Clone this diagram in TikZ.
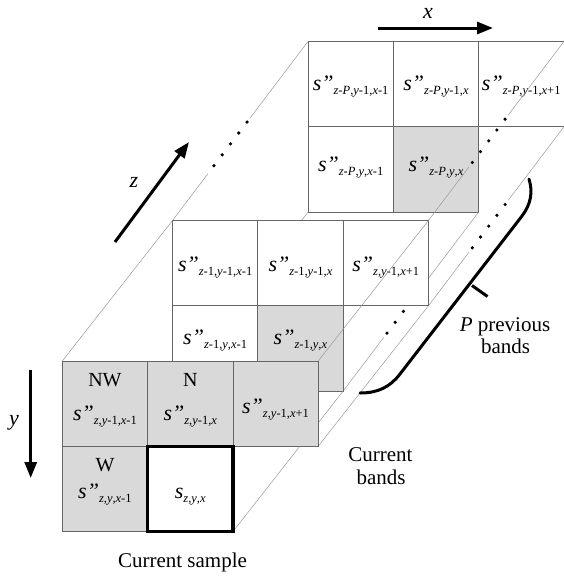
\documentclass[tikz,border=0pt]{standalone}
\usepackage{fontspec}
\setmainfont{Liberation Serif}
\usetikzlibrary{calc,arrows.meta}
\newcommand{\mi}[1]{\textit{#1}}
\newcommand{\spp}[1]{{\fontsize{22}{22}\selectfont\itshape s\char"22}\raisebox{-4pt}{\fontsize{12.5}{12}\selectfont #1}}
\newcommand{\scur}[1]{{\fontsize{22}{22}\selectfont\itshape s}\raisebox{-4pt}{\fontsize{12.5}{12}\selectfont #1}}
\begin{document}
\begin{tikzpicture}[x=1pt,y=-1pt,
  cellbox/.style={draw=black!60,line width=0.8pt,minimum size=85.3pt,inner sep=0pt,outer sep=0pt,fill=white},
  greycell/.style={cellbox,fill=black!15},
  zline/.style={draw=black!40,line width=0.5pt},
  celltext/.style={anchor=base,inner sep=0pt},
  dirlabel/.style={anchor=base,inner sep=0pt,font=\fontsize{22}{22}\selectfont\itshape},
  axisarrow/.style={line width=3pt,-{Triangle[length=16pt,width=12pt]}},
  lbl/.style={font=\fontsize{21}{23}\selectfont,inner sep=0pt,anchor=base},
  dirname/.style={font=\fontsize{20}{20}\selectfont,inner sep=0pt,anchor=base},
  brace/.style={line width=3pt,line cap=round}
]
\useasboundingbox (0,0) rectangle (563,576);

% corner coordinates of the three band planes
\coordinate (Btl) at (308,41.5);   \coordinate (Btr) at (563.9,41.5);
\coordinate (Brm) at (563.9,126.8); \coordinate (Bbr) at (478.6,212.1);
\coordinate (Bbl) at (308,212.1);
\coordinate (Mtl) at (172.5,220.5); \coordinate (Mtr) at (428.4,220.5);
\coordinate (Mrm) at (428.4,305.8); \coordinate (Mbr) at (343.1,391.1);
\coordinate (Mbl) at (172.5,391.1);
\coordinate (Ftl) at (62.3,361);    \coordinate (Ftr) at (318.2,361);
\coordinate (Frm) at (318.2,446.3); \coordinate (Fbr) at (232.9,531.6);
\coordinate (Fbl) at (62.3,531.6);

% ---------- back band (z-P) ----------
\node[cellbox]  (b00) at (350.65,84.15) {};
\node[cellbox]  (b10) at (435.95,84.15) {};
\node[cellbox]  (b20) at (521.25,84.15) {};
\node[cellbox]  (b01) at (350.65,169.45) {};
\node[greycell] (b11) at (435.95,169.45) {};
\node[celltext] (tb00) at (350.65,90) {\spp{\mi{z}-\mi{P},\mi{y}-1,\mi{x}-1}};
\node[celltext] (tb10) at (435.95,90) {\spp{\mi{z}-\mi{P},\mi{y}-1,\mi{x}}};
\node[celltext] (tb20) at (521.25,90) {\spp{\mi{z}-\mi{P},\mi{y}-1,\mi{x}+1}};
\node[celltext] (tb01) at (350.65,171) {\spp{\mi{z}-\mi{P},\mi{y},\mi{x}-1}};
\node[celltext] (tb11) at (435.95,171) {\spp{\mi{z}-\mi{P},\mi{y},\mi{x}}};

% ---------- z lines between back and middle band ----------
\draw[zline] (Btl) -- ($(Btl)!0.43!(Mtl)$);
\draw[zline] ($(Btl)!0.74!(Mtl)$) -- (Mtl);
\draw[zline] (Btr) -- ($(Btr)!0.41!(Mtr)$);
\draw[zline] ($(Btr)!0.70!(Mtr)$) -- (Mtr);
\draw[zline] (Brm) -- ($(Brm)!0.41!(Mrm)$);
\draw[zline] ($(Brm)!0.70!(Mrm)$) -- (Mrm);
\draw[zline] (Bbr) -- ($(Bbr)!0.41!(Mbr)$);
\draw[zline] ($(Bbr)!0.70!(Mbr)$) -- (Mbr);
\draw[zline] (Bbl) -- (Mbl);
\foreach \t in {0.45,0.511,0.572,0.633,0.694}
  \fill ($(Btl)!\t!(Mtl)$) circle[radius=1.8pt];
\foreach \t in {0.434,0.4945,0.555,0.6155,0.676}{
  \fill ($(Btr)!\t!(Mtr)$) circle[radius=1.8pt];
  \fill ($(Brm)!\t!(Mrm)$) circle[radius=1.8pt];
  \fill ($(Bbr)!\t!(Mbr)$) circle[radius=1.8pt];
}

% ---------- middle band (z-1) ----------
\node[cellbox]  (m00) at (215.15,263.15) {};
\node[cellbox]  (m10) at (300.45,263.15) {};
\node[cellbox]  (m20) at (385.75,263.15) {};
\node[cellbox]  (m01) at (215.15,348.45) {};
\node[greycell] (m11) at (300.45,348.45) {};
\node[celltext] (tm00) at (215.15,271) {\spp{\mi{z}-1,\mi{y}-1,\mi{x}-1}};
\node[celltext] (tm10) at (300.45,271) {\spp{\mi{z}-1,\mi{y}-1,\mi{x}}};
\node[celltext] (tm20) at (385.75,271) {\spp{\mi{z},\mi{y}-1,\mi{x}+1}};
\node[celltext] (tm01) at (215.15,344) {\spp{\mi{z}-1,\mi{y},\mi{x}-1}};
\node[celltext] (tm11) at (300.45,344) {\spp{\mi{z}-1,\mi{y},\mi{x}}};

% ---------- z lines between middle and current band ----------
\draw[zline] (Mtl) -- (Ftl);
\draw[zline] (Mtr) -- (Ftr);
\draw[zline] (Mrm) -- (Frm);
\draw[zline] (Mbr) -- (Fbr);
\draw[zline] (Mbl) -- (Fbl);

% ---------- current band (z) ----------
\node[greycell] (f00) at (104.95,403.65) {};
\node[greycell] (f10) at (190.25,403.65) {};
\node[greycell] (f20) at (275.55,403.65) {};
\node[greycell] (f01) at (104.95,488.95) {};
\node[cellbox,draw=black,line width=3.3pt] (f11) at (190.25,488.95) {};
\node[dirname]  (nNW) at (104.95,386.7) {NW};
\node[dirname]  (nN)  at (190.25,386.7) {N};
\node[dirname]  (nW)  at (104.95,471.7) {W};
\node[celltext] (tf00) at (104.95,420) {\spp{\mi{z},\mi{y}-1,\mi{x}-1}};
\node[celltext] (tf10) at (190.25,420) {\spp{\mi{z},\mi{y}-1,\mi{x}}};
\node[celltext] (tf20) at (275.55,413.3) {\spp{\mi{z},\mi{y}-1,\mi{x}+1}};
\node[celltext] (tf01) at (104.95,498) {\spp{\mi{z},\mi{y},\mi{x}-1}};
\node[celltext] (tf11) at (190.25,498) {\scur{\mi{z},\mi{y},\mi{x}}};

% ---------- axis arrows ----------
\coordinate (xs) at (378,28);  \coordinate (xe) at (493,28);
\coordinate (zs) at (115,242); \coordinate (ze) at (189,142);
\coordinate (ys) at (30.7,370); \coordinate (ye) at (30.7,478);
\draw[axisarrow] (xs) -- (xe);
\draw[axisarrow] (zs) -- (ze);
\draw[axisarrow] (ys) -- (ye);
\node[dirlabel] (lx) at (428,18) {x};
\node[dirlabel] (lz) at (134,187) {z};
\node[dirlabel] (ly) at (14,425) {y};

% ---------- brace for the previous bands ----------
\coordinate (br1) at (360,393);
\coordinate (br2) at (400,374);
\coordinate (br3) at (522,216);
\coordinate (br4) at (529,179);
\coordinate (tk1) at (472,285.5);
\coordinate (tk2) at (487.5,296.5);
\draw[brace] (br1) .. controls (378,393) and (390,387) .. (br2) -- (br3)
  .. controls (531,204) and (533,192) .. (br4);
\draw[line width=3pt] (tk1) -- (tk2);

% ---------- labels ----------
\node[lbl] (lP1) at (505,331.7) {\textit{P} previous};
\node[lbl] (lP2) at (505.5,353) {bands};
\node[lbl] (lC1) at (380.5,461) {Current};
\node[lbl] (lC2) at (381,484) {bands};
\node[lbl] (lS)  at (182.5,567) {Current sample};
\end{tikzpicture}
\end{document}
